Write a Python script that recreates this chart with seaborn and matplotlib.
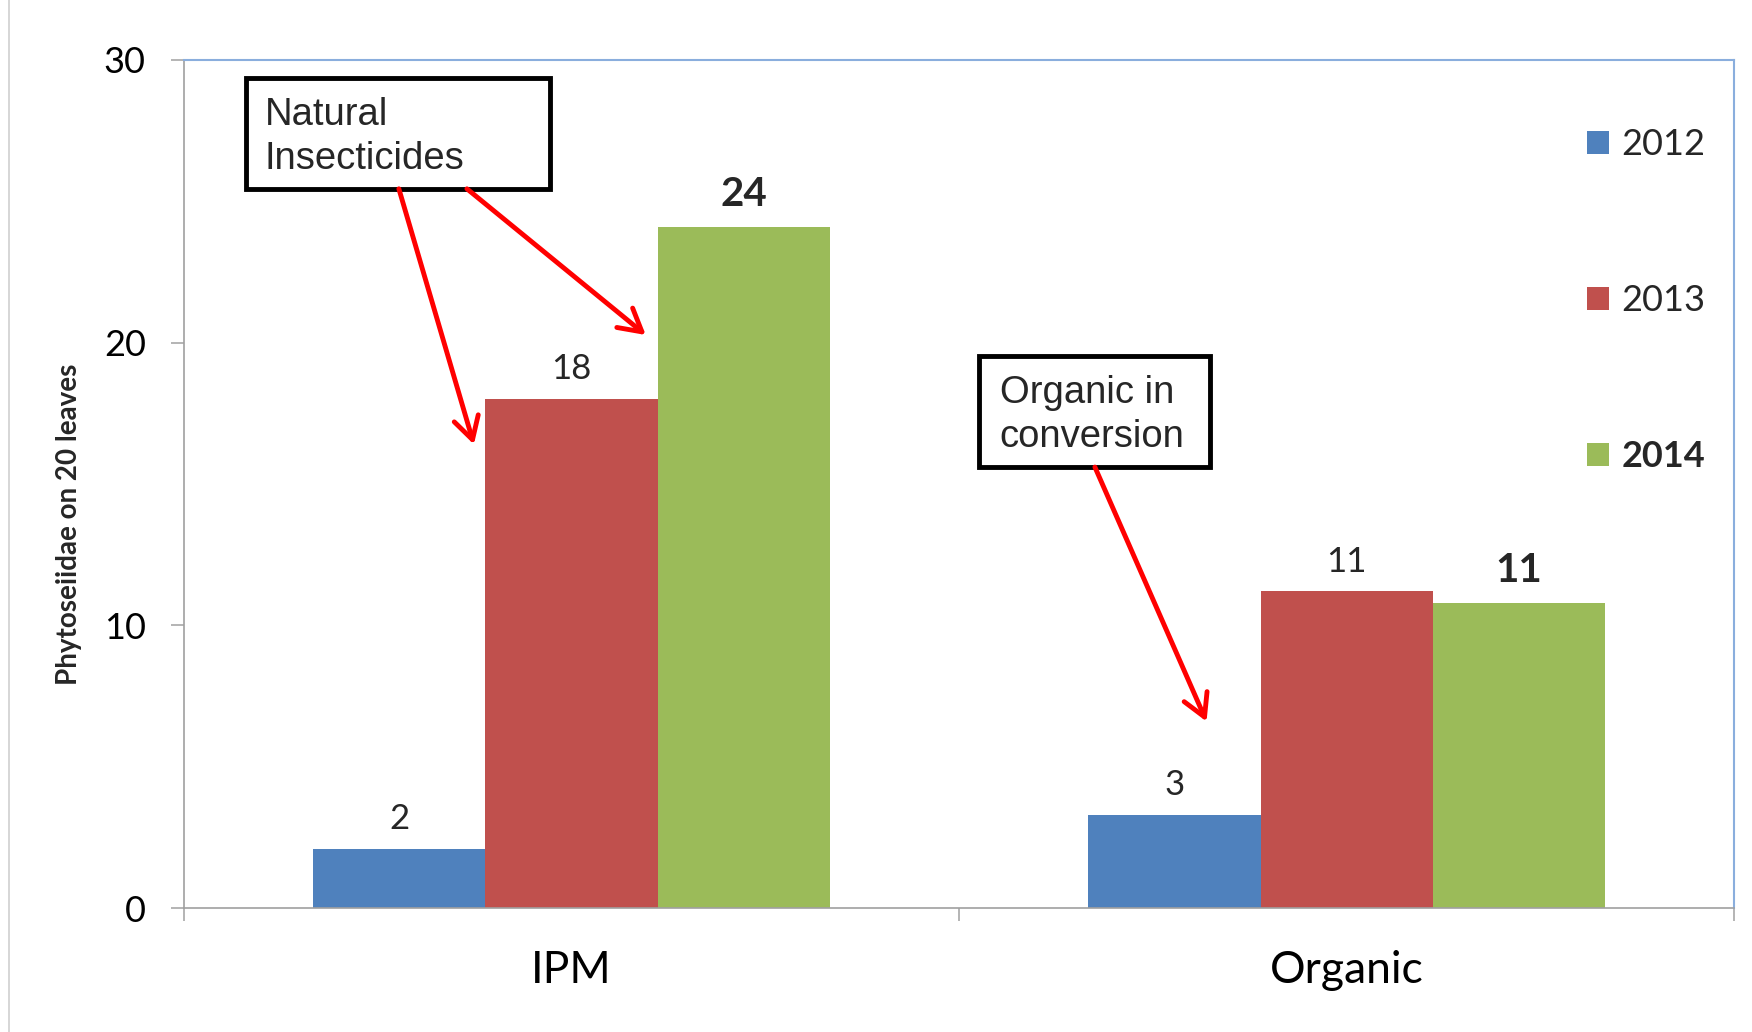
import numpy as np
import pandas as pd
import matplotlib
matplotlib.use("Agg")
import matplotlib.pyplot as plt
import seaborn as sns
from matplotlib.patches import Rectangle
from matplotlib.lines import Line2D

# ---------------- data ----------------
groups = ["IPM", "Organic"]
years = ["2012", "2013", "2014"]
vals_2012 = [2.1, 3.3]
vals_2013 = [18.0, 11.2]
vals_2014 = [24.1, 10.8]
colors = ["#4F81BD", "#C0504D", "#9BBB59"]
y_ticks = [0, 10, 20, 30]
y_label = "Phytoseiidae on 20 leaves"
note1 = "Natural\nInsecticides"
note2 = "Organic in\nconversion"

df = pd.DataFrame({
    "group": groups * 3,
    "year": [y for y in years for _ in groups],
    "value": vals_2012 + vals_2013 + vals_2014,
})

sns.set_style("white")
plt.rcParams["font.family"] = ["Lato", "DejaVu Sans"]

fig = plt.figure(figsize=(17.52, 10.32), dpi=100)
ax = fig.add_axes([0.105, 0.120, 0.885, 0.822])

sns.barplot(data=df, x="group", y="value", hue="year", hue_order=years,
            order=groups, palette=colors, width=0.667, gap=0, saturation=1,
            errorbar=None, linewidth=0, ax=ax)

ax.set_xlim(-0.5, 1.5)
ax.set_ylim(0, 30)
ax.set_yticks(y_ticks)
ax.set_xlabel("")
ax.set_ylabel(y_label, fontsize=20, fontweight="bold")
ax.yaxis.set_label_coords(-0.066, 0.452)

# spines
for s in ["left", "bottom"]:
    ax.spines[s].set_color("#A0A0A0")
    ax.spines[s].set_linewidth(1.2)
for s in ["top", "right"]:
    ax.spines[s].set_color("#8AAEDD")
    ax.spines[s].set_linewidth(1.5)

ax.tick_params(axis="y", left=True, length=9.5, width=1.1, color="#A0A0A0",
               pad=18, labelsize=26, labelcolor="black")
ax.tick_params(axis="x", which="major", bottom=True, length=0, pad=30,
               labelsize=32, labelcolor="black")
ax.set_xticks([-0.5, 0.5, 1.5], minor=True)
ax.tick_params(axis="x", which="minor", bottom=True, length=9.5, width=1.1,
               color="#A0A0A0")

# bar labels
for i, cont in enumerate(ax.containers):
    bold = (i == 2)
    ax.bar_label(cont, fmt="%.0f", padding=10,
                 fontsize=29 if bold else 25,
                 fontweight="bold" if bold else "normal")

# legend
handles, labels = ax.get_legend_handles_labels()
leg = ax.legend(handles, labels, loc="center left", bbox_to_anchor=(0.905, 0.716),
                frameon=False, fontsize=26, handlelength=0.61, handleheight=0.61,
                handletextpad=0.33, labelspacing=3.4, borderpad=0, borderaxespad=0)
leg.get_texts()[2].set_fontweight("bold")

# annotation boxes
ax.add_patch(Rectangle((-0.420, 25.44), 0.392, 3.93, fill=False, ec="black",
                       lw=3.5, zorder=6, clip_on=False))
ax.text(-0.3956, 27.28, note1, family=["Liberation Sans"], fontsize=27.5,
        va="center", ha="left", linespacing=1.3, zorder=7)
ax.add_patch(Rectangle((0.526, 15.6), 0.297, 3.93, fill=False, ec="black",
                       lw=3.5, zorder=6, clip_on=False))
ax.text(0.552, 17.44, note2, family=["Liberation Sans"], fontsize=27.5,
        va="center", ha="left", linespacing=1.3, zorder=7)

arrow_kw = dict(arrowstyle="->,head_length=0.8,head_width=0.45", color="red",
                lw=3.5, shrinkA=0, shrinkB=0, mutation_scale=20)
ax.annotate("", xy=(-0.126, 16.4), xytext=(-0.2228, 25.44), arrowprops=arrow_kw, zorder=8)
ax.annotate("", xy=(0.0957, 20.27), xytext=(-0.135, 25.44), arrowprops=arrow_kw, zorder=8)
ax.annotate("", xy=(0.819, 6.6), xytext=(0.675, 15.6), arrowprops=arrow_kw, zorder=8)

# slide edge line
fig.add_artist(Line2D([0.005, 0.005], [0, 1], transform=fig.transFigure,
                      color="#D0D0D0", lw=1.2))

fig.savefig("out.png", dpi=100)
